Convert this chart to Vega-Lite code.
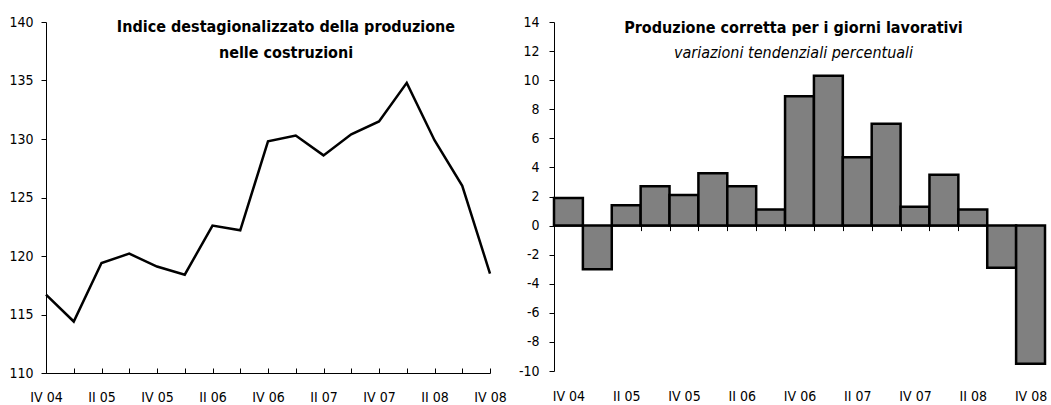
{
  "$schema": "https://vega.github.io/schema/vega-lite/v6.json",
  "background": "white",
  "padding": {"left": 0, "top": 15, "right": 0, "bottom": 0},
  "spacing": 11,
  "config": {
    "view": {"stroke": null},
    "font": "DejaVu Sans Condensed, Liberation Sans, sans-serif",
    "axis": {
      "grid": false,
      "title": null,
      "domainColor": "black",
      "domainWidth": 1,
      "tickColor": "black",
      "tickWidth": 1,
      "labelColor": "black",
      "labelFontSize": 14,
      "labelFont": "DejaVu Sans Condensed, Liberation Sans, sans-serif"
    },
    "title": {
      "font": "DejaVu Sans Condensed, Liberation Sans, sans-serif",
      "subtitleFont": "DejaVu Sans Condensed, Liberation Sans, sans-serif",
      "color": "black",
      "subtitleColor": "black"
    }
  },
  "datasets": {
    "q": [
      {"q": "IV 04", "indice": 116.7, "var": 1.9},
      {"q": "I 05", "indice": 114.4, "var": -3.0},
      {"q": "II 05", "indice": 119.4, "var": 1.4},
      {"q": "III 05", "indice": 120.2, "var": 2.7},
      {"q": "IV 05", "indice": 119.1, "var": 2.1},
      {"q": "I 06", "indice": 118.4, "var": 3.6},
      {"q": "II 06", "indice": 122.6, "var": 2.7},
      {"q": "III 06", "indice": 122.2, "var": 1.1},
      {"q": "IV 06", "indice": 129.8, "var": 8.9},
      {"q": "I 07", "indice": 130.3, "var": 10.3},
      {"q": "II 07", "indice": 128.6, "var": 4.7},
      {"q": "III 07", "indice": 130.4, "var": 7.0},
      {"q": "IV 07", "indice": 131.5, "var": 1.3},
      {"q": "I 08", "indice": 134.8, "var": 3.5},
      {"q": "II 08", "indice": 129.9, "var": 1.1},
      {"q": "III 08", "indice": 126.0, "var": -2.9},
      {"q": "IV 08", "indice": 118.5, "var": -9.5}
    ]
  },
  "hconcat": [
    {
      "width": 444,
      "height": 351,
      "data": {"name": "q"},
      "title": {
        "text": ["Indice destagionalizzato della produzione", "nelle costruzioni"],
        "fontSize": 16,
        "fontWeight": "bold",
        "lineHeight": 26,
        "offset": -46,
        "dx": 18
      },
      "mark": {"type": "line", "color": "black", "strokeWidth": 2.5},
      "encoding": {
        "x": {
          "field": "q",
          "type": "ordinal",
          "sort": null,
          "scale": {"type": "point", "padding": 0},
          "axis": {
            "tickSize": -5,
            "labelPadding": 22,
            "labelAngle": 0,
            "labelExpr": "indexof(datum.label,'IV')==0 || indexof(datum.label,'II ')==0 ? datum.label : ''"
          }
        },
        "y": {
          "field": "indice",
          "type": "quantitative",
          "scale": {"domain": [110, 140], "nice": false, "zero": false},
          "axis": {
            "values": [110, 115, 120, 125, 130, 135, 140],
            "tickSize": 5,
            "labelPadding": 8,
            "minExtent": 46,
            "maxExtent": 46
          }
        }
      }
    },
    {
      "width": 491,
      "height": 349,
      "data": {"name": "q"},
      "title": {
        "text": "Produzione corretta per i giorni lavorativi",
        "subtitle": "variazioni tendenziali percentuali",
        "fontSize": 16,
        "fontWeight": "bold",
        "subtitleFontSize": 16,
        "subtitleFontStyle": "italic",
        "subtitlePadding": 9,
        "offset": -46,
        "dx": -6
      },
      "mark": {"type": "bar", "color": "#808080", "stroke": "black", "strokeWidth": 2.5},
      "encoding": {
        "x": {
          "field": "q",
          "type": "ordinal",
          "sort": null,
          "scale": {"paddingInner": 0, "paddingOuter": 0},
          "axis": {
            "offset": -145.4,
            "domainWidth": 1.5,
            "tickSize": 5,
            "tickBand": "extent",
            "labelPadding": 159,
            "labelAngle": 0,
            "labelExpr": "indexof(datum.label,'IV')==0 || indexof(datum.label,'II ')==0 ? datum.label : ''"
          }
        },
        "y": {
          "field": "var",
          "type": "quantitative",
          "scale": {"domain": [-10, 14], "nice": false},
          "axis": {
            "values": [-10, -8, -6, -4, -2, 0, 2, 4, 6, 8, 10, 12, 14],
            "labelExpr": "'' + datum.value",
            "tickSize": 5,
            "labelPadding": 10,
            "minExtent": 30,
            "maxExtent": 30
          }
        }
      }
    }
  ]
}
